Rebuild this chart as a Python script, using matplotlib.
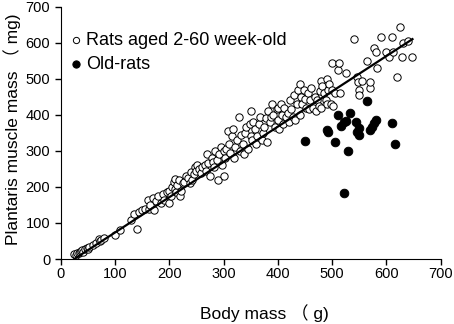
import matplotlib
matplotlib.use('Agg')
import matplotlib.pyplot as plt
import numpy as np

plt.rcParams['font.family'] = ['Liberation Sans', 'Noto Sans CJK SC', 'DejaVu Sans']

# rats aged 2-60 weeks: (body mass g, plantaris mg)
young = [
    (25, 15), (28, 12), (30, 18), (33, 16), (35, 20), (38, 22), (40, 25), (42, 20),
    (45, 28), (48, 30), (50, 27), (52, 32), (60, 40), (65, 45), (70, 55), (72, 50),
    (75, 52), (80, 58), (100, 67), (110, 80), (130, 108), (135, 125), (140, 82),
    (145, 130), (150, 135), (155, 140), (160, 165), (162, 140), (165, 150), (170, 170),
    (172, 135), (175, 160), (180, 175), (185, 155), (188, 180), (190, 165), (195, 185),
    (200, 190), (200, 155), (203, 175), (205, 200), (208, 215), (210, 222), (210, 195),
    (212, 185), (215, 205), (218, 220), (220, 175), (222, 190), (225, 210), (228, 215),
    (230, 230), (235, 225), (238, 210), (240, 240), (242, 220), (245, 235), (248, 255),
    (250, 245), (252, 260), (255, 250), (258, 238), (260, 255), (265, 260), (268, 245),
    (270, 290), (272, 265), (275, 230), (278, 280), (280, 270), (282, 255), (285, 300),
    (288, 275), (290, 220), (292, 290), (295, 310), (298, 260), (300, 230), (300, 300),
    (302, 280), (305, 305), (308, 355), (310, 320), (312, 295), (315, 340), (318, 360),
    (320, 280), (322, 310), (325, 330), (328, 395), (330, 300), (332, 345), (335, 320),
    (338, 290), (340, 350), (342, 365), (345, 305), (348, 375), (350, 410), (350, 340),
    (352, 330), (355, 380), (358, 360), (360, 320), (362, 340), (365, 375), (368, 395),
    (370, 330), (372, 350), (375, 365), (378, 390), (380, 325), (382, 410), (385, 380),
    (388, 395), (390, 430), (392, 400), (395, 365), (398, 415), (400, 420), (400, 385),
    (402, 360), (405, 430), (408, 400), (410, 375), (412, 420), (415, 395), (418, 405),
    (420, 380), (422, 440), (425, 415), (428, 395), (430, 455), (432, 385), (435, 430),
    (438, 470), (440, 485), (440, 400), (442, 450), (445, 430), (448, 470), (450, 445),
    (452, 420), (455, 460), (458, 415), (460, 440), (462, 475), (465, 420), (468, 450),
    (470, 410), (472, 440), (475, 425), (478, 465), (480, 495), (480, 420), (482, 480),
    (485, 460), (488, 440), (490, 500), (490, 430), (493, 470), (495, 485), (498, 430),
    (500, 545), (500, 470), (502, 425), (505, 460), (510, 525), (512, 545), (515, 460),
    (525, 515), (540, 610), (545, 505), (548, 490), (550, 470), (550, 455), (555, 495),
    (565, 550), (570, 475), (570, 490), (578, 585), (580, 575), (582, 530), (590, 615),
    (600, 575), (605, 560), (610, 615), (612, 575), (620, 505), (625, 645), (628, 560),
    (630, 600), (640, 605), (648, 560),
]

old = [
    (450, 326), (490, 357), (493, 351), (510, 399), (506, 324), (516, 369), (522, 380),
    (526, 384), (533, 404), (530, 300), (522, 184), (544, 381), (545, 353), (549, 344),
    (550, 363), (564, 438), (570, 358), (573, 367), (577, 376), (580, 387), (610, 376),
    (616, 319),
]

fit_x = [25, 648]
fit_y = [0, 610]

yx = [p[0] for p in young]
yy = [p[1] for p in young]
ox = [p[0] for p in old]
oy = [p[1] for p in old]

fig = plt.figure(figsize=(4.54, 3.24), dpi=100)
ax = fig.add_axes([0.1337, 0.2006, 0.837, 0.7788])

ax.scatter(yx, yy, s=28, facecolor='white', edgecolor='black', linewidth=0.7,
           label='Rats aged 2-60 week-old', zorder=2)
ax.scatter(ox, oy, s=38, facecolor='black', edgecolor='black', linewidth=0.7,
           label='Old-rats', zorder=3)
ax.plot(fit_x, fit_y, color='black', linewidth=1.6, zorder=4)

ax.set_xlim(0, 700)
ax.set_ylim(0, 700)
ax.set_xticks(np.arange(0, 701, 100))
ax.set_yticks(np.arange(0, 701, 100))
ax.spines['top'].set_visible(False)
ax.spines['right'].set_visible(False)
ax.tick_params(direction='out', length=4, width=1, labelsize=10.5)
ax.tick_params(axis='x', pad=2)

ax.set_xlabel('Body mass \uff08 g)', fontsize=12.5)
ax.set_ylabel('Plantaris muscle mass \uff08 mg)', fontsize=12.5)
ax.xaxis.set_label_coords(0.537, -0.18)
ax.yaxis.set_label_coords(-0.105, 0.515)

ax.legend(loc='upper left', bbox_to_anchor=(0.022, 0.90), frameon=False, fontsize=13,
          handlelength=0.8, handletextpad=0.15, labelspacing=0.4, borderaxespad=0.0,
          borderpad=0.0, markerscale=0.85)

fig.savefig('out.png', dpi=100)
